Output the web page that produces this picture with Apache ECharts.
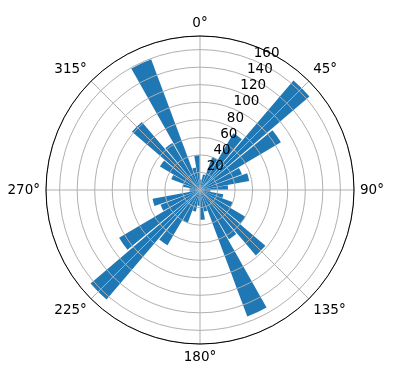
<!DOCTYPE html>
<html>
<head>
<meta charset="utf-8">
<script src="https://cdn.jsdelivr.net/npm/echarts@6/dist/echarts.min.js"></script>
<style>html,body{margin:0;padding:0;background:#fff}#c{width:396px;height:380px}</style>
</head>
<body>
<div id="c"></div>
<script>
// bin centres (degrees, clockwise from north)
const binCenters = [5,15,25,35,45,55,65,75,85,95,105,115,125,135,145,155,165,175,
                    185,195,205,215,225,235,245,255,265,275,285,295,305,315,325,335,345,355];
const counts = [12,18,40,75,164,107,51,57,32,12,27,40,60,98,65,154,25,34,
                18,25,40,73,164,107,48,55,12,12,20,35,53,102,62,159,26,40];
const angleTicks = [0,45,90,135,180,225,270,315];
const radialTicks = [20,40,60,80,100,120,140,160];
const rMax = 175.5;

const chart = echarts.init(document.getElementById('c'), null, {renderer:'canvas'});
const font = 'DejaVu Sans';
const center = [200,190], radius = 154;
chart.setOption({
  animation:false,
  backgroundColor:'#fff',
  polar:[{center,radius},{center,radius},{center,radius}],
  angleAxis:[
    {polarIndex:0,type:'category',data:binCenters.map(String),startAngle:90,clockwise:true,
     axisLine:{show:false},axisTick:{show:false},axisLabel:{show:false},splitLine:{show:false}},
    {polarIndex:1,type:'value',min:0,max:360,interval:45,startAngle:90,clockwise:true,z:3,
     axisLine:{show:true,lineStyle:{color:'#000',width:1}},axisTick:{show:false},
     axisLabel:{margin:6,color:'#000',fontFamily:font,fontSize:13.5,
       formatter:v=>angleTicks.includes(v)?v+'°':''},
     splitLine:{show:true,lineStyle:{color:'#b0b0b0',width:1}}},
    {polarIndex:2,type:'value',min:0,max:360,startAngle:67.5,clockwise:true,
     axisLine:{show:false},axisTick:{show:false},axisLabel:{show:false},splitLine:{show:false}}
  ],
  radiusAxis:[
    {polarIndex:0,type:'value',min:0,max:rMax,axisLine:{show:false},axisTick:{show:false},
     axisLabel:{show:false},splitLine:{show:false}},
    {polarIndex:1,type:'value',min:0,max:rMax,interval:20,z:3,axisLine:{show:false},axisTick:{show:false},
     axisLabel:{show:false},
     splitLine:{show:true,lineStyle:{color:'#b0b0b0',width:1}}},
    {polarIndex:2,type:'value',min:0,max:rMax,interval:20,z:4,axisLine:{show:false},axisTick:{show:false},
     axisLabel:{show:true,margin:0,color:'#000',fontFamily:font,fontSize:13.5,align:'left',verticalAlign:'bottom',
       formatter:v=>radialTicks.includes(v)?String(v):''},
     splitLine:{show:false}}
  ],
  series:[{
    type:'bar',coordinateSystem:'polar',polarIndex:0,data:counts,
    barCategoryGap:'10%',
    itemStyle:{color:'#1f77b4'}
  }]
});
</script>
</body>
</html>
